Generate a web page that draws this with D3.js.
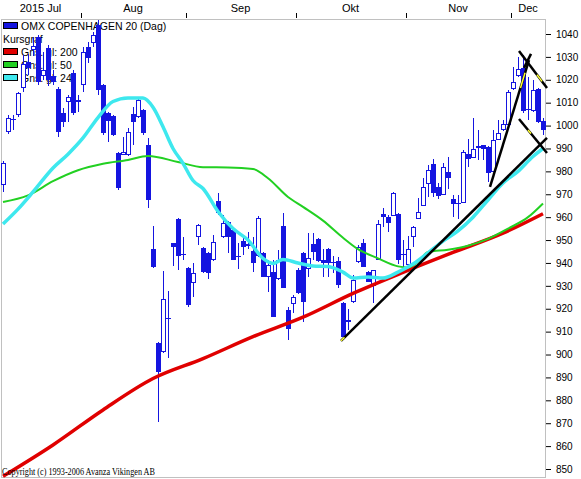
<!DOCTYPE html>
<html>
<head>
<meta charset="utf-8">
<script src="https://cdn.jsdelivr.net/npm/d3@7"></script>
<style>
body { margin: 0; background: #fff; }
text { font-family: "Liberation Sans", Arial, sans-serif; }
text.copy { font-family: "Liberation Serif", "Times New Roman", serif; }
</style>
</head>
<body>
<script>
// OMX Copenhagen 20, daily candles 10 Jul - 9 Dec 2015
var opens = [
  974.1, 997.2, 1002.9, 1004.6, 1016.4, 1027.8, 1033.0, 1038.7, 1021.7, 1033.9,
  1021.7, 1016.0, 1005.5, 1010.3, 1023.0, 1011.2, 1017.7, 1034.3, 1036.1, 1043.9,
  1017.7, 1005.5, 1004.2, 988.0, 987.2, 987.2, 1005.1, 1003.8, 1006.8, 991.5,
  946.1, 905.0, 901.1, 915.5, 948.7, 959.2, 943.9, 937.8, 931.2, 951.3,
  946.5, 944.3, 941.3, 967.1, 951.3, 957.9, 954.4, 943.0, 949.6, 947.4,
  945.2, 943.0, 944.3, 933.9, 936.0, 933.0, 956.1, 919.5, 922.1, 936.9,
  944.3, 937.4, 948.3, 950.5, 941.3, 946.1, 940.0, 940.9, 922.5, 915.1,
  922.9, 940.4, 948.7, 936.0, 929.9, 941.3, 961.4, 960.1, 960.5, 961.4,
  943.5, 939.1, 951.3, 959.2, 964.9, 974.5, 983.2, 973.2, 969.7, 979.7,
  967.9, 966.2, 966.2, 987.6, 985.8, 990.2, 991.5, 990.6, 979.7, 993.7,
  998.1, 1000.3, 1016.0, 1021.7, 1025.2, 1007.2, 1006.4, 1016.0, 1002.0
];
var highs = [
  984.5, 1004.6, 1004.6, 1014.6, 1030.8, 1031.3, 1038.7, 1039.6, 1032.1, 1035.2,
  1024.3, 1016.9, 1007.7, 1013.4, 1024.3, 1013.4, 1034.3, 1036.5, 1040.9, 1046.1,
  1018.2, 1005.9, 1004.6, 988.5, 995.0, 998.9, 1008.1, 1012.5, 1007.2, 994.6,
  956.1, 905.5, 936.5, 927.8, 948.7, 959.6, 951.3, 938.2, 940.0, 957.0,
  947.0, 944.8, 952.2, 970.6, 960.9, 958.4, 955.3, 948.7, 951.3, 953.5,
  951.3, 960.5, 944.8, 941.3, 941.3, 945.7, 961.8, 920.7, 926.0, 937.8,
  944.8, 953.1, 953.1, 950.9, 946.1, 946.5, 943.0, 942.6, 922.9, 919.9,
  934.7, 947.8, 950.5, 936.5, 936.9, 958.8, 964.0, 960.9, 971.0, 961.8,
  950.0, 951.8, 956.1, 968.4, 977.1, 982.8, 985.4, 974.9, 983.7, 986.3,
  969.7, 969.7, 989.3, 994.1, 1003.3, 998.1, 991.5, 991.1, 998.1, 1002.4,
  1002.4, 1015.5, 1025.6, 1030.0, 1030.8, 1021.3, 1019.9, 1016.4, 1003.3
];
var lows = [
  971.0, 996.3, 998.1, 1003.8, 1014.6, 1022.1, 1030.4, 1017.7, 1019.9, 1017.3,
  1017.7, 995.0, 999.4, 1001.6, 1004.6, 1005.9, 1014.6, 1027.3, 1034.3, 1013.4,
  995.9, 992.8, 995.5, 971.9, 987.2, 986.7, 991.5, 1003.3, 995.9, 964.0,
  937.8, 870.5, 900.7, 898.5, 938.7, 936.9, 941.3, 920.7, 925.1, 947.8,
  935.6, 933.0, 940.9, 960.9, 950.9, 944.3, 941.3, 937.4, 943.5, 946.1,
  936.0, 942.6, 933.9, 927.3, 916.4, 932.6, 929.1, 906.3, 918.1, 926.4,
  914.2, 933.9, 941.3, 940.4, 933.9, 933.9, 935.6, 929.1, 907.2, 910.7,
  922.5, 940.0, 938.2, 931.7, 922.5, 941.3, 955.7, 953.5, 960.5, 939.5,
  938.2, 938.2, 947.0, 959.2, 964.9, 968.8, 968.8, 967.9, 969.7, 972.3,
  960.1, 959.2, 966.2, 981.9, 985.8, 985.0, 985.0, 975.4, 979.7, 993.7,
  997.6, 998.9, 1015.5, 1021.3, 1005.5, 1002.4, 1005.9, 1001.1, 995.9
];
var closes = [
  983.7, 1003.3, 1002.4, 1014.2, 1026.9, 1025.2, 1034.8, 1019.0, 1024.3, 1019.9,
  1019.0, 997.2, 1001.6, 1012.5, 1005.5, 1010.3, 1032.1, 1029.5, 1039.6, 1015.5,
  996.8, 1002.0, 995.9, 972.7, 988.5, 997.2, 1001.6, 1011.2, 996.8, 967.5,
  938.2, 892.4, 924.3, 916.0, 947.0, 943.0, 943.5, 921.6, 935.6, 956.6,
  936.0, 935.6, 949.2, 961.8, 957.5, 951.3, 941.3, 942.6, 947.0, 948.3,
  940.0, 959.6, 933.9, 939.1, 916.4, 941.3, 929.1, 911.2, 925.1, 926.9,
  922.9, 942.2, 944.8, 940.9, 940.0, 940.0, 940.4, 930.4, 907.7, 914.2,
  932.6, 947.0, 938.2, 931.7, 936.9, 957.0, 960.1, 957.5, 970.6, 941.3,
  943.9, 946.1, 955.7, 962.3, 973.2, 980.6, 970.6, 969.2, 981.9, 977.1,
  965.8, 965.8, 988.5, 985.4, 989.8, 991.1, 989.8, 979.3, 993.7, 996.8,
  1000.7, 1014.6, 1019.0, 1024.7, 1006.4, 1006.8, 1015.5, 1001.6, 998.1
];

// moving averages, sampled at day indices
var ma200Idx = [0, 10, 20, 30, 40, 50, 60, 70, 80, 90, 100, 108];
var ma200 = [846.8, 860.5, 875.8, 889.5, 898.2, 907.8, 916.3, 926.7, 935.9, 944.6, 953.0, 961.5];
var ma50Idx = [0, 5, 10, 15, 20, 25, 29, 35, 40, 45, 50, 53, 57, 60, 64, 68, 71, 75, 79, 81, 83, 85, 89, 93, 97, 101, 105, 108];
var ma50 = [966.6, 969.5, 975.7, 980.5, 983.3, 985.0, 986.7, 984.1, 981.8, 981.7, 981.0, 977.0, 968.8, 964.5,
  958.5, 951.0, 946.0, 942.0, 938.5, 938.0, 940.5, 944.8, 945.8, 947.5, 950.5, 955.0, 960.0, 966.0];
var ma24Idx = [0, 3, 6, 10, 13, 16, 19, 22, 25, 28, 30, 32, 34, 36, 38, 40, 43, 46, 49, 52, 54, 56, 59, 62, 65,
  68, 70, 73, 76, 79, 82, 85, 88, 91, 94, 97, 100, 103, 106, 108];
var ma24 = [957.0, 963.5, 971.0, 981.5, 987.5, 994.6, 1003.5, 1010.5, 1012.1, 1012.0, 1008.0, 999.5, 990.0, 983.5,
  976.0, 972.5, 962.5, 955.0, 950.0, 942.0, 939.8, 941.5, 940.0, 938.7, 938.5, 936.0, 933.4, 933.9, 933.4, 936.0,
  939.5, 944.4, 949.5, 954.0, 960.0, 967.5, 974.9, 980.0, 986.5, 990.0];

// hand-drawn trend lines: [day index, value] pairs
var trendLines = [
  [[67.6, 906.0], [108.8, 994.6]],
  [[97.4, 973.2], [105.2, 1028.6]],
  [[103.2, 1032.6], [108.8, 1016.4]],
  [[105.6, 1031.3], [104.2, 1025.2]],
  [[103.2, 1002.9], [108.8, 988.0]]
];
var trendMarks = [
  [[103.5, 1016.4], [104.4, 1023.1]],
  [[106.8, 1022.2], [107.8, 1019.3]],
  [[105.0, 998.1], [105.6, 996.5]],
  [[67.6, 906.0], [68.3, 907.5]]
];

var monthLabels = ['2015 Jul', 'Aug', 'Sep', 'Okt', 'Nov', 'Dec'];
var yTicks = d3.range(850, 1041, 10);
var legendNames = ['OMX COPENHAGEN 20 (Dag)', 'Kursgraf', 'Gns. gl: 200', 'Gns. gl: 50', 'Gns. gl: 24'];
var legendColors = ['#1515e0', null, '#e00000', '#22d022', '#3ee8ee'];

// trading days (weekdays) from 10 Jul 2015
var days = d3.timeDay.range(new Date(2015, 6, 10), new Date(2015, 11, 31))
  .filter(function (d) { return d.getDay() % 6 !== 0; })
  .slice(0, closes.length);

var blue = '#1515e0';
var svg = d3.select('body').append('svg').attr('width', 581).attr('height', 479);

var x = d3.scaleLinear().domain([-0.5, closes.length - 0.5]).range([0.5, 545.5]);
var y = d3.scaleLinear().domain([850, 1040]).range([469, 34]);

svg.append('rect').attr('width', 581).attr('height', 479).attr('fill', '#fff');

// month ticks and labels on top
var starts = [0];
days.forEach(function (d, i) {
  if (i > 0 && d.getMonth() !== days[i - 1].getMonth()) starts.push(i);
});
var monthAxis = svg.append('g');
starts.slice(1).forEach(function (s) {
  monthAxis.append('line')
    .attr('x1', Math.round(x(s - 0.5)) + 0.5).attr('x2', Math.round(x(s - 0.5)) + 0.5)
    .attr('y1', 13).attr('y2', 18).attr('stroke', '#000');
});
starts.forEach(function (s, k) {
  var e = k + 1 < starts.length ? starts[k + 1] : closes.length;
  monthAxis.append('text')
    .attr('x', (x(s - 0.5) + x(e - 0.5)) / 2).attr('y', 12)
    .attr('text-anchor', 'middle').attr('font-size', '11px')
    .text(monthLabels[k]);
});

// plot frame
svg.append('rect')
  .attr('x', 1.5).attr('y', 19.5).attr('width', 544).attr('height', 458)
  .attr('fill', 'none').attr('stroke', '#c0c0c0');

// right value axis
var axis = svg.append('g').attr('transform', 'translate(546,0)')
  .call(d3.axisRight(y).tickValues(yTicks).tickFormat(d3.format('d')).tickSize(5).tickPadding(5));
axis.select('.domain').remove();
axis.selectAll('text').attr('font-size', '10px');

// legend
var leg = svg.append('g');
legendNames.forEach(function (name, k) {
  var base = 30 + k * 13;
  if (legendColors[k]) {
    leg.append('rect').attr('x', 3.5).attr('y', base - 7.5).attr('width', 14).attr('height', 6)
      .attr('fill', legendColors[k]).attr('stroke', '#000');
  }
  leg.append('text').attr('x', legendColors[k] ? 21 : 3).attr('y', base)
    .attr('font-size', '10.5px').text(name);
});

// candles
var c = svg.append('g').attr('shape-rendering', 'crispEdges');
closes.forEach(function (cl, i) {
  var cx = Math.round(x(i));
  var op = opens[i];
  c.append('line')
    .attr('x1', cx + 0.5).attr('x2', cx + 0.5)
    .attr('y1', y(highs[i])).attr('y2', y(lows[i]))
    .attr('stroke', blue);
  var yt = Math.round(y(Math.max(op, cl)));
  var yb = Math.round(y(Math.min(op, cl)));
  if (yb - yt < 2) {
    c.append('line').attr('x1', cx - 2).attr('x2', cx + 3)
      .attr('y1', yt + 0.5).attr('y2', yt + 0.5).attr('stroke', blue);
  } else if (cl >= op) {
    c.append('rect').attr('x', cx - 1.5).attr('y', yt + 0.5).attr('width', 4).attr('height', yb - yt - 1)
      .attr('fill', '#fff').attr('stroke', blue);
  } else {
    c.append('rect').attr('x', cx - 2).attr('y', yt).attr('width', 5).attr('height', yb - yt)
      .attr('fill', blue);
  }
});

// moving averages
var line = d3.line()
  .x(function (d) { return x(d[0]); })
  .y(function (d) { return y(d[1]); })
  .curve(d3.curveMonotoneX);
function pairs(idx, vals) { return idx.map(function (d, k) { return [d, vals[k]]; }); }

svg.append('path').attr('d', line(pairs(ma200Idx, ma200)))
  .attr('fill', 'none').attr('stroke', '#e00000').attr('stroke-width', 3.5);
svg.append('path').attr('d', line(pairs(ma50Idx, ma50)))
  .attr('fill', 'none').attr('stroke', '#22d022').attr('stroke-width', 2);
svg.append('path').attr('d', line(pairs(ma24Idx, ma24)))
  .attr('fill', 'none').attr('stroke', '#3ee8ee').attr('stroke-width', 3.5);

// trend lines
var straight = d3.line().x(function (d) { return x(d[0]); }).y(function (d) { return y(d[1]); });
trendLines.forEach(function (t) {
  svg.append('path').attr('d', straight(t)).attr('stroke', '#000').attr('stroke-width', 2.5)
    .attr('fill', 'none');
});
trendMarks.forEach(function (t) {
  svg.append('path').attr('d', straight(t)).attr('stroke', '#ffff30').attr('stroke-width', 1.5)
    .attr('fill', 'none');
});

// copyright
svg.append('text').attr('class', 'copy').attr('x', 2).attr('y', 475)
  .attr('font-size', '9.5px').attr('textLength', 153).attr('lengthAdjust', 'spacingAndGlyphs')
  .text('Copyright (c) 1993-2006 Avanza Vikingen AB');
</script>
</body>
</html>
